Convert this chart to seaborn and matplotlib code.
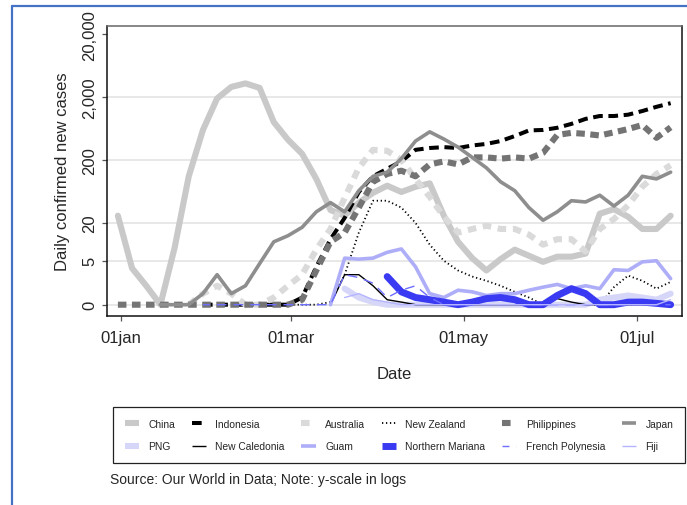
import numpy as np
import pandas as pd
import matplotlib
matplotlib.use("Agg")
import matplotlib.pyplot as plt
from matplotlib.lines import Line2D
import seaborn as sns

sns.set_style("white")
plt.rcParams["font.family"] = ["Liberation Sans", "DejaVu Sans"]

# ---------------- data (daily confirmed new cases, smoothed) ----------------
dates = pd.date_range("2019-12-31", periods=40, freq="5D")
nan = np.nan

china = [26, 3.8, 2, 0, 8, 110, 600, 1900, 2900, 3300,
         2800, 800, 420, 250, 100, 32, 26, 42, 60, 78,
         62, 75, 85, 26, 10, 5.5, 3.5, 5.3, 7.5, 6,
         4.8, 5.8, 5.8, 6.5, 28, 33, 25, 16, 16, 26]
indonesia = [nan, nan, nan, nan, nan, nan, 0, 0, 0, 0,
             0, 0, 0, 1.3, 4, 11, 24, 62, 110, 145,
             190, 290, 310, 320, 310, 340, 360, 400, 480, 590,
             600, 650, 750, 900, 1000, 1000, 1050, 1200, 1400, 1600]
australia = [nan, nan, nan, nan, nan, 0, 1.5, 2, 1.5, 0,
             0, 1.3, 2, 3, 7.5, 16, 50, 150, 290, 280,
             200, 100, 52, 25, 14, 16, 18, 16, 16, 13,
             9, 11, 11, 7, 16, 23, 38, 75, 120, 165]
new_zealand = [nan, nan, nan, nan, nan, nan, nan, nan, nan, nan,
               nan, 0, 0, 0, 1, 1.1, 3, 14, 45, 45,
               35, 20, 9, 5, 3.5, 2.8, 2.4, 2, 1.6, 1.3,
               0, 0, 0, 0, 1, 1.9, 2.9, 2.4, 1.8, 2.3]
philippines = [0, 0, 0, 0, 0, 0, 0, 0, 0, 0,
               0, 0, 0, 1.2, 3.5, 10, 14, 35, 90, 120,
               135, 110, 170, 190, 170, 220, 220, 210, 220, 210,
               260, 500, 540, 520, 490, 550, 620, 720, 450, 660]
japan = [nan, nan, nan, 0, 0, 0, 1.5, 3, 1.5, 2,
         4.5, 10, 12.5, 17, 30, 42, 30, 65, 110, 128,
         210, 400, 560, 430, 320, 220, 150, 90, 65, 35,
         22, 30, 45, 43, 55, 37, 55, 110, 100, 128]
png = [nan, nan, nan, nan, nan, nan, nan, nan, nan, nan,
       nan, nan, nan, nan, nan, nan, 1.8, 1.3, 1.1, 0,
       0, 0, 0, 0, 0, 0, 0, 0, 0, 0,
       0, 0, 0, 0, 1.2, 1.3, 1.4, 1.3, 1.2, 1.5]
new_caledonia = [nan, nan, nan, nan, nan, nan, nan, nan, nan, nan,
                 nan, nan, nan, nan, nan, 0, 3, 3, 2, 1.2,
                 1.1, 0, 0, 0, 0, 0, 0, 0, 0, 0,
                 0, 1.25, 1.1, 0, 0, 0, 0, 0, 0, 0]
guam = [nan, nan, nan, nan, nan, nan, nan, nan, nan, nan,
        nan, nan, nan, nan, nan, 0, 5.5, 5.3, 5.5, 6.8,
        7.7, 4, 1.5, 1.3, 1.7, 1.6, 1.4, 1.5, 1.5, 1.7,
        1.9, 2.1, 1.8, 2, 1.8, 3.6, 3.5, 4.8, 5, 2.6]
northern_mariana = [nan, nan, nan, nan, nan, nan, nan, nan, nan, nan,
                    nan, nan, nan, nan, nan, nan, nan, nan, nan, 2.8,
                    1.6, 1.3, 1.2, 1.1, 0, 1.1, 1.25, 1.3, 1.2, 0,
                    0, 1.4, 1.8, 1.5, 0, 0, 1.1, 1.1, 1.05, 1]
french_polynesia = [nan, nan, nan, nan, nan, nan, 0, 0, 0, 0,
                    0, 0, 0, 0, 0, 0, 3, 2.7, 2.2, 1.3,
                    1.7, 2, 1.3, 0, 0, 0, 0, 0, 0, 0,
                    0, 0, 0, 0, 0, 0, 0, 0, 0, 0]
fiji = [nan, nan, nan, nan, nan, nan, nan, nan, nan, nan,
        nan, nan, nan, nan, nan, nan, 1.3, 1.5, 1.2, 1.1,
        0, 0, 0, 0, 0, 0, 0, 0, 0, 0,
        0, 0, 0, 0, 0, 0, 0, 0, 0, 1.2]

names = ["China", "Indonesia", "Australia", "New Zealand", "Philippines", "Japan",
         "PNG", "New Caledonia", "Guam", "Northern Mariana", "French Polynesia", "Fiji"]
values = [china, indonesia, australia, new_zealand, philippines, japan,
          png, new_caledonia, guam, northern_mariana, french_polynesia, fiji]

ytick_vals = [0, 5, 20, 200, 2000, 20000]
ytick_labels = ["0", "5", "20", "200", "2,000", "20,000"]
xtick_dates = ["2020-01-01", "2020-03-01", "2020-05-01", "2020-07-01"]
xtick_labels = ["01jan", "01mar", "01may", "01jul"]

# ---------------- styles ----------------
styles = {
    "China": dict(color="#C9C9C9", lw=4.4, ls="-"),
    "Indonesia": dict(color="#000000", lw=2.9, ls=(0, (2.4, 1.4))),
    "Australia": dict(color="#DADADA", lw=4.4, ls=(0, (1.4, 1.1))),
    "New Zealand": dict(color="#000000", lw=1.3, ls=(0, (0.7, 1.5))),
    "Philippines": dict(color="#747474", lw=4.4, ls=(0, (1.4, 0.9))),
    "Japan": dict(color="#8E8E8E", lw=2.6, ls="-"),
    "PNG": dict(color="#D6D6F8", lw=4.4, ls="-"),
    "New Caledonia": dict(color="#000000", lw=1.0, ls="-"),
    "Guam": dict(color="#AEAEF8", lw=2.6, ls="-"),
    "Northern Mariana": dict(color="#3A3AF2", lw=5.0, ls="-"),
    "French Polynesia": dict(color="#6E6EFF", lw=1.0, ls=(2, (7, 5))),
    "Fiji": dict(color="#B4B4FF", lw=1.0, ls="-"),
}

W, H = 687, 506
fig = plt.figure(figsize=(W / 100, H / 100), dpi=100)
ax = fig.add_axes([107 / W, 1 - 316.7 / H, (681.7 - 107) / W, (316.7 - 26.7) / H])

yt = np.log10(np.maximum(ytick_vals, 1))
for v in yt[:5]:
    ax.axhline(v, color="#E4E4E4", lw=1.2, zorder=0)

handles = []
for i, (name, vals) in enumerate(zip(names, values)):
    v = np.array(vals, dtype=float)
    m = ~np.isnan(v)
    y = np.log10(np.maximum(v[m], 1))
    st = styles[name]
    sns.lineplot(x=dates[m], y=y, ax=ax, estimator=None, errorbar=None, sort=False,
                 color=st["color"], linewidth=st["lw"], linestyle=st["ls"],
                 legend=False, zorder=2 + i * 0.01)
    handles.append(Line2D([], [], color=st["color"], lw=st["lw"], ls=st["ls"],
                          solid_capstyle="butt", dash_capstyle="butt"))

ax.set_ylim(-0.175, 4.436)
ax.set_xlim(pd.Timestamp("2020-01-01") - pd.Timedelta(days=4.84),
            pd.Timestamp("2020-07-01") + pd.Timedelta(days=15.9))
ax.set_yticks(yt)
ax.set_yticklabels(ytick_labels, rotation=90, va="center", fontsize=12)
ax.set_xticks(pd.to_datetime(xtick_dates))
ax.set_xticklabels(xtick_labels, fontsize=12)
ax.tick_params(axis="both", bottom=True, left=True, length=3.6, width=0.9,
               color="#555555")
ax.tick_params(axis="y", pad=3.5)
ax.tick_params(axis="x", pad=6.5)
ax.set_ylabel("Daily confirmed new cases", fontsize=12, labelpad=9)
ax.set_xlabel("Date", fontsize=12, labelpad=15)
for s in ax.spines.values():
    s.set_visible(True)
    s.set_color("#111111")
    s.set_linewidth(1.1)
ax.spines["top"].set_color("#666666")

# legend: reorder for row-wise filling
order = []
for c in range(6):
    order += [c, c + 6]
leg = fig.legend([handles[k] for k in order], [names[k] for k in order],
                 loc="upper left", bbox_to_anchor=(113.3 / W, 1 - 408.3 / H),
                 bbox_transform=fig.transFigure, ncol=6, fontsize=7.4,
                 frameon=True, fancybox=False, edgecolor="#222222",
                 borderpad=1.1, labelspacing=1.25, handlelength=1.42,
                 handletextpad=0.9, columnspacing=1.6, borderaxespad=0)
leg.get_frame().set_linewidth(0.9)
leg.get_frame().set_alpha(1)

fig.text(110 / W, 1 - 480 / H, "Source: Our World in Data; Note: y-scale in logs",
         fontsize=10, va="center", ha="left")

# outer graph-region border (cropped at right/bottom)
fig.add_artist(Line2D([12.5 / W, 12.5 / W], [0, 1 - 7 / H], transform=fig.transFigure,
                      color="#4472C4", lw=1.6))
fig.add_artist(Line2D([12.5 / W, 1], [1 - 7 / H, 1 - 7 / H], transform=fig.transFigure,
                      color="#4472C4", lw=1.6))

fig.savefig("out.png", dpi=100, facecolor="white")
